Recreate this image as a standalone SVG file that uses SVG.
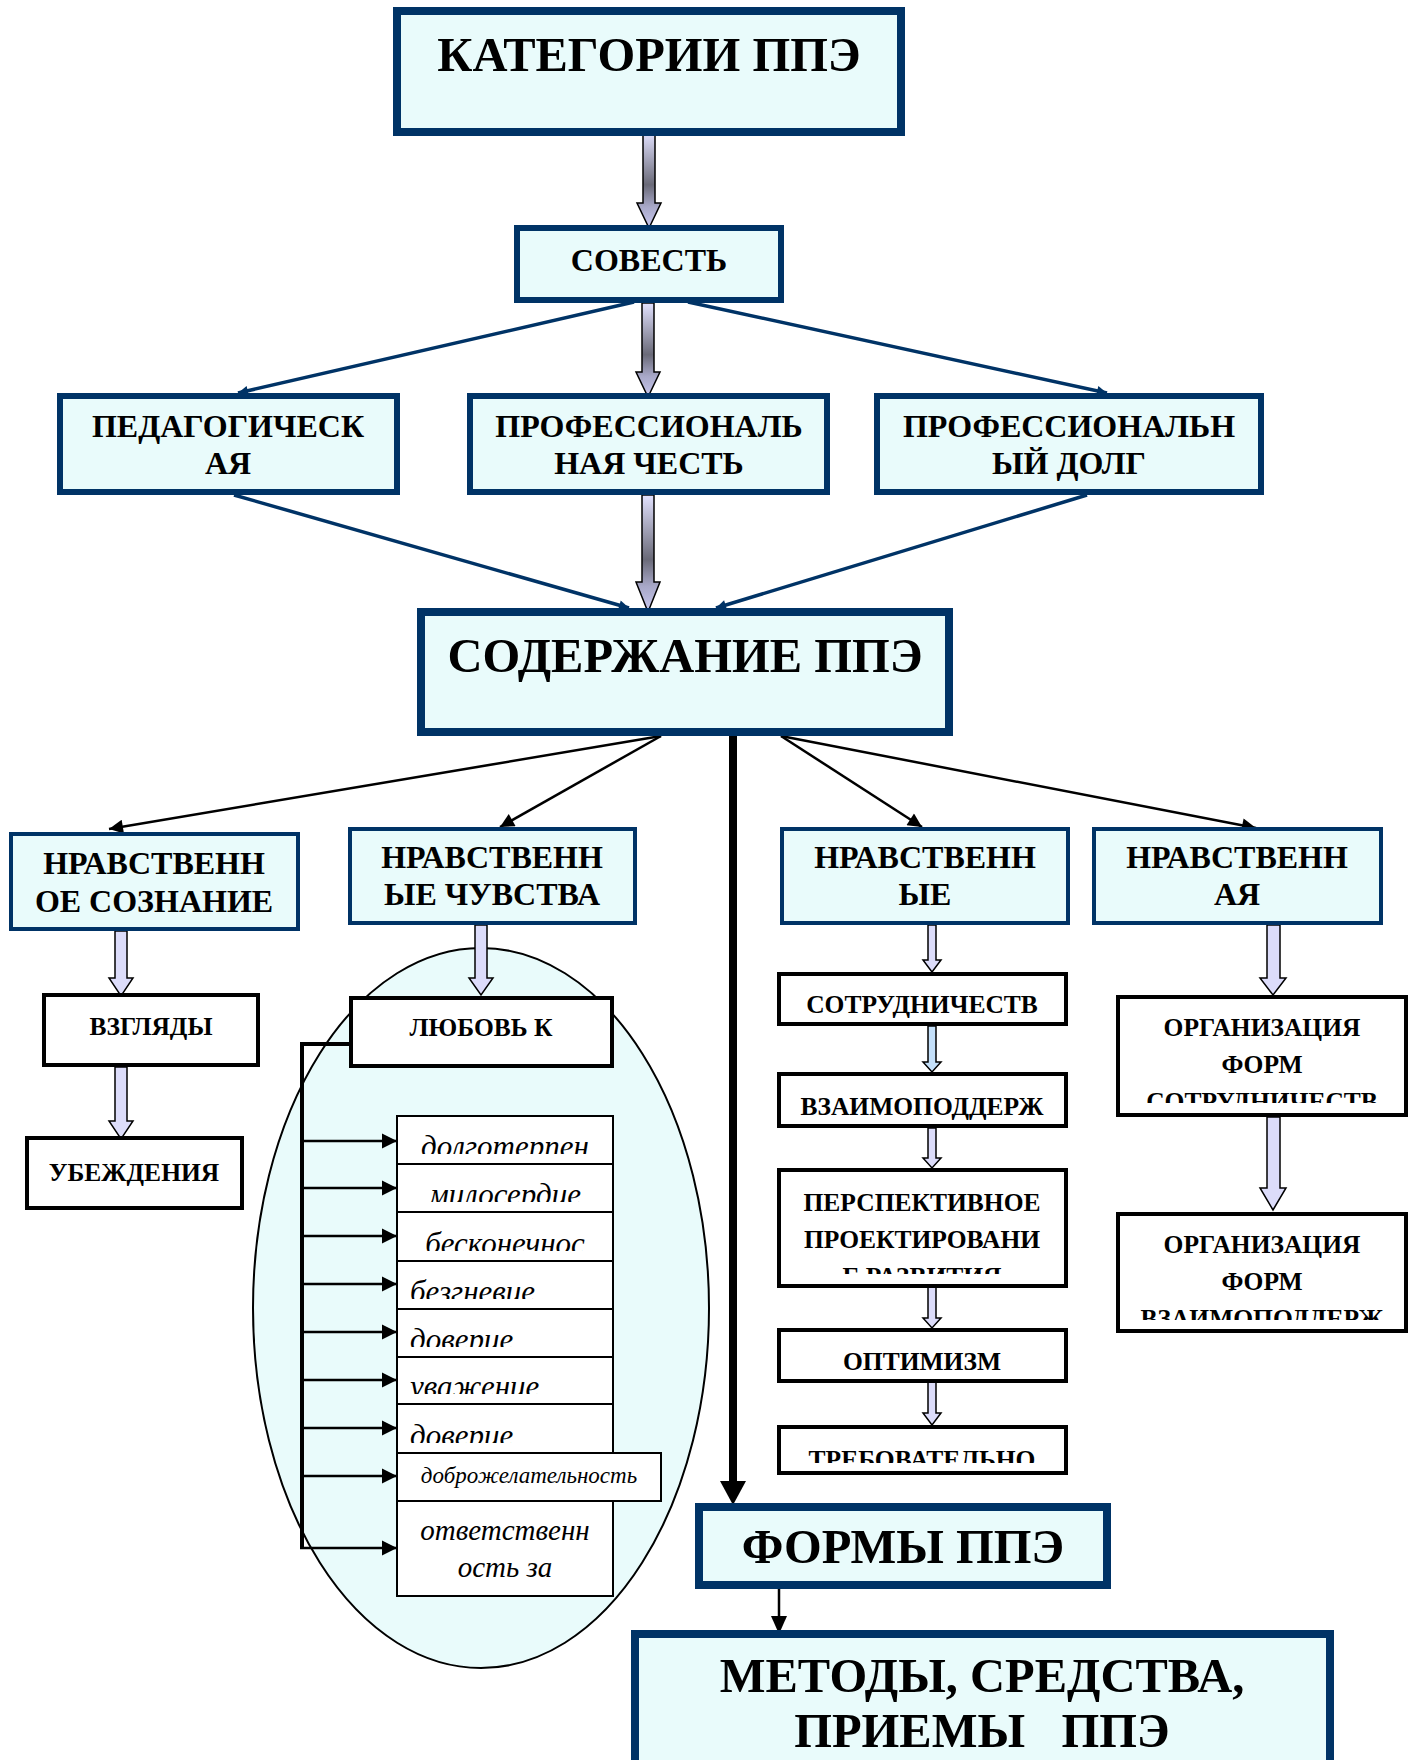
<svg xmlns="http://www.w3.org/2000/svg" width="1413" height="1760" viewBox="0 0 1413 1760">
<style>
.bb{fill:#e9fbfb;stroke:#003366}
.bk{fill:#ffffff;stroke:#000000;stroke-width:4}
.li{fill:#ffffff;stroke:#000000;stroke-width:2}
.t{font-family:"Liberation Serif","Times New Roman",serif;font-weight:bold;fill:#000;text-anchor:middle}
.it{font-family:"Liberation Serif","Times New Roman",serif;font-style:italic;fill:#000}
.blu{stroke:#003366;stroke-width:3.5;fill:none}
.blk{stroke:#000;stroke-width:2.5;fill:none}
.ga{fill:url(#gArrow);stroke:#000;stroke-width:1.5}
.la{fill:#dcdcfa;stroke:#000;stroke-width:1.5}
.lb{fill:#c4e0fa;stroke:#000;stroke-width:1.5}
</style>
<defs>
<linearGradient id="gArrow" x1="0" y1="0" x2="0" y2="1">
<stop offset="0" stop-color="#e2e2ff"/>
<stop offset="0.55" stop-color="#6a6a78"/>
<stop offset="0.78" stop-color="#a8a8c8"/>
<stop offset="1" stop-color="#c8c8f0"/>
</linearGradient>
<marker id="mb" viewBox="0 0 10 10" refX="10" refY="5" markerWidth="14" markerHeight="10" markerUnits="userSpaceOnUse" orient="auto"><path d="M0,0 L10,5 L0,10 z" fill="#003366"/></marker>
<marker id="mk" viewBox="0 0 10 10" refX="10" refY="5" markerWidth="18" markerHeight="14" markerUnits="userSpaceOnUse" orient="auto"><path d="M0,0 L10,5 L0,10 z" fill="#000"/></marker>
<marker id="mh" viewBox="0 0 10 10" refX="10" refY="5" markerWidth="15" markerHeight="16" markerUnits="userSpaceOnUse" orient="auto"><path d="M0,0 L10,5 L0,10 z" fill="#000"/></marker>
<clipPath id="c1"><rect x="397" y="1116" width="216" height="38"/></clipPath>
<clipPath id="c2"><rect x="397" y="1164" width="216" height="38"/></clipPath>
<clipPath id="c3"><rect x="397" y="1212" width="216" height="39"/></clipPath>
<clipPath id="c4"><rect x="397" y="1261" width="216" height="38"/></clipPath>
<clipPath id="c5"><rect x="397" y="1309" width="216" height="38"/></clipPath>
<clipPath id="c6"><rect x="397" y="1357" width="216" height="37"/></clipPath>
<clipPath id="c7"><rect x="397" y="1404" width="216" height="39"/></clipPath>
<clipPath id="cp"><rect x="779" y="1170" width="287" height="104"/></clipPath>
<clipPath id="ct"><rect x="779" y="1427" width="287" height="36"/></clipPath>
<clipPath id="co1"><rect x="1118" y="997" width="288" height="106"/></clipPath>
<clipPath id="co2"><rect x="1118" y="1214" width="288" height="106"/></clipPath>
</defs>
<rect width="1413" height="1760" fill="#ffffff"/>

<g id="ellipse">
<ellipse cx="481" cy="1308" rx="228" ry="360" fill="#e9fbfb" stroke="#000" stroke-width="2"/>
</g>

<g id="connectors">
<polygon class="ga" points="643,132 655,132 655,203 661,203 649,228 637,203 643,203"/>
<polygon class="ga" points="642,303 654,303 654,372 660,372 648,397 636,372 642,372"/>
<polygon class="ga" points="642,495 654,495 654,582 660,582 648,612 636,582 642,582"/>
<line class="blu" x1="634" y1="302" x2="238" y2="393" marker-end="url(#mb)"/>
<line class="blu" x1="688" y1="302" x2="1107" y2="393" marker-end="url(#mb)"/>
<line class="blu" x1="234" y1="495" x2="629" y2="608" marker-end="url(#mb)"/>
<line class="blu" x1="1087" y1="495" x2="716" y2="608" marker-end="url(#mb)"/>
<line class="blk" x1="661" y1="736" x2="109" y2="829" marker-end="url(#mk)"/>
<line class="blk" x1="661" y1="736" x2="500" y2="827" marker-end="url(#mk)"/>
<line class="blk" x1="781" y1="736" x2="922" y2="827" marker-end="url(#mk)"/>
<line class="blk" x1="781" y1="736" x2="1256" y2="828" marker-end="url(#mk)"/>
<line x1="733" y1="736" x2="733" y2="1483" stroke="#000" stroke-width="8"/>
<polygon points="720,1481 746,1481 733,1505" fill="#000"/>
<line x1="779" y1="1589" x2="779" y2="1618" stroke="#000" stroke-width="2.5"/>
<polygon points="771,1616 787,1616 779,1634" fill="#000"/>
<polygon class="la" points="115,931 127,931 127,978 133,978 121,996 109,978 115,978"/>
<polygon class="la" points="115,1067 127,1067 127,1121 133,1121 121,1139 109,1121 115,1121"/>
<polygon class="la" points="475,925 487,925 487,978 493,978 481,995 469,978 475,978"/>
<polygon class="la" points="928,925 936,925 936,960 941,960 932,972 923,960 928,960"/>
<polygon class="lb" points="928,1026 936,1026 936,1062 941,1062 932,1072 923,1062 928,1062"/>
<polygon class="la" points="928,1128 936,1128 936,1158 941,1158 932,1168 923,1158 928,1158"/>
<polygon class="la" points="928,1282 936,1282 936,1318 941,1318 932,1328 923,1318 928,1318"/>
<polygon class="la" points="928,1378 936,1378 936,1413 941,1413 932,1425 923,1413 928,1413"/>
<polygon class="la" points="1267,925 1280,925 1280,978 1286,978 1273,995 1260,978 1267,978"/>
<polygon class="la" points="1267,1117 1280,1117 1280,1188 1286,1188 1273,1210 1260,1188 1267,1188"/>
<polyline points="349,1044 302,1044 302,1548" fill="none" stroke="#000" stroke-width="4"/>
<line class="blk" x1="302" y1="1141" x2="397" y2="1141" marker-end="url(#mh)"/>
<line class="blk" x1="302" y1="1188" x2="397" y2="1188" marker-end="url(#mh)"/>
<line class="blk" x1="302" y1="1236" x2="397" y2="1236" marker-end="url(#mh)"/>
<line class="blk" x1="302" y1="1284" x2="397" y2="1284" marker-end="url(#mh)"/>
<line class="blk" x1="302" y1="1332" x2="397" y2="1332" marker-end="url(#mh)"/>
<line class="blk" x1="302" y1="1380" x2="397" y2="1380" marker-end="url(#mh)"/>
<line class="blk" x1="302" y1="1428" x2="397" y2="1428" marker-end="url(#mh)"/>
<line class="blk" x1="302" y1="1476" x2="397" y2="1476" marker-end="url(#mh)"/>
<line class="blk" x1="300" y1="1548" x2="397" y2="1548" marker-end="url(#mh)"/>
</g>

<g id="n-kategorii"><rect class="bb" x="397" y="11" width="504" height="121" stroke-width="8"/><text class="t" x="649" y="71" font-size="48.5">КАТЕГОРИИ ППЭ</text></g>
<g id="n-sovest"><rect class="bb" x="517" y="228" width="264" height="72" stroke-width="6"/><text class="t" x="649" y="271" font-size="32">СОВЕСТЬ</text></g>
<g id="n-ped"><rect class="bb" x="60" y="396" width="337" height="96" stroke-width="6"/><text class="t" x="228" y="437" font-size="32">ПЕДАГОГИЧЕСК</text><text class="t" x="228" y="474" font-size="32">АЯ</text></g>
<g id="n-chest"><rect class="bb" x="470" y="396" width="357" height="96" stroke-width="6"/><text class="t" x="649" y="437" font-size="32">ПРОФЕССИОНАЛЬ</text><text class="t" x="649" y="474" font-size="32">НАЯ ЧЕСТЬ</text></g>
<g id="n-dolg"><rect class="bb" x="877" y="396" width="384" height="96" stroke-width="6"/><text class="t" x="1069" y="437" font-size="32">ПРОФЕССИОНАЛЬН</text><text class="t" x="1069" y="474" font-size="32">ЫЙ ДОЛГ</text></g>
<g id="n-soderzh"><rect class="bb" x="421" y="612" width="528" height="120" stroke-width="8"/><text class="t" x="685" y="672" font-size="48.5">СОДЕРЖАНИЕ ППЭ</text></g>

<g id="n-soznanie"><rect class="bb" x="11" y="834" width="287" height="95" stroke-width="4"/><text class="t" x="154" y="874" font-size="32">НРАВСТВЕНН</text><text class="t" x="154" y="912" font-size="32">ОЕ СОЗНАНИЕ</text></g>
<g id="n-chuvstva"><rect class="bb" x="350" y="829" width="285" height="94" stroke-width="4"/><text class="t" x="492" y="868" font-size="32">НРАВСТВЕНН</text><text class="t" x="492" y="905" font-size="32">ЫЕ ЧУВСТВА</text></g>
<g id="n-nravye"><rect class="bb" x="782" y="829" width="286" height="94" stroke-width="4"/><text class="t" x="925" y="868" font-size="32">НРАВСТВЕНН</text><text class="t" x="925" y="905" font-size="32">ЫЕ</text></g>
<g id="n-nravaya"><rect class="bb" x="1094" y="829" width="287" height="94" stroke-width="4"/><text class="t" x="1237" y="868" font-size="32">НРАВСТВЕНН</text><text class="t" x="1237" y="905" font-size="32">АЯ</text></g>

<g id="n-vzglyady"><rect class="bk" x="44" y="995" width="214" height="70"/><text class="t" x="151" y="1035" font-size="25.5">ВЗГЛЯДЫ</text></g>
<g id="n-ubezhdeniya"><rect class="bk" x="27" y="1138" width="215" height="70"/><text class="t" x="134" y="1181" font-size="25.5">УБЕЖДЕНИЯ</text></g>
<g id="n-lyubov"><rect class="bk" x="351" y="998" width="261" height="68"/><text class="t" x="481" y="1036" font-size="25.5">ЛЮБОВЬ К</text></g>

<g id="n-list">
<rect class="li" x="397" y="1116" width="216" height="48"/>
<rect class="li" x="397" y="1164" width="216" height="48"/>
<rect class="li" x="397" y="1212" width="216" height="49"/>
<rect class="li" x="397" y="1261" width="216" height="48"/>
<rect class="li" x="397" y="1309" width="216" height="48"/>
<rect class="li" x="397" y="1357" width="216" height="47"/>
<rect class="li" x="397" y="1404" width="216" height="49"/>
<rect class="li" x="397" y="1453" width="264" height="48"/>
<rect class="li" x="397" y="1501" width="216" height="95"/>
<text class="it" x="505" y="1157" font-size="31" text-anchor="middle" clip-path="url(#c1)">долготерпен</text>
<text class="it" x="505" y="1205" font-size="31" text-anchor="middle" clip-path="url(#c2)">милосердие</text>
<text class="it" x="505" y="1254" font-size="31" text-anchor="middle" clip-path="url(#c3)">бесконечнос</text>
<text class="it" x="410" y="1302" font-size="31" clip-path="url(#c4)">безгневие</text>
<text class="it" x="410" y="1350" font-size="31" clip-path="url(#c5)">доверие</text>
<text class="it" x="410" y="1397" font-size="31" clip-path="url(#c6)">уважение</text>
<text class="it" x="410" y="1446" font-size="31" clip-path="url(#c7)">доверие</text>
<text class="it" x="529" y="1483" font-size="23" text-anchor="middle">доброжелательность</text>
<text class="it" x="505" y="1540" font-size="29" text-anchor="middle">ответственн</text>
<text class="it" x="505" y="1577" font-size="29" text-anchor="middle">ость за</text>
</g>

<g id="n-sotrud"><rect class="bk" x="779" y="974" width="287" height="50"/><text class="t" x="922" y="1013" font-size="25.5">СОТРУДНИЧЕСТВ</text></g>
<g id="n-vzaimo"><rect class="bk" x="779" y="1074" width="287" height="52"/><text class="t" x="922" y="1115" font-size="25.5">ВЗАИМОПОДДЕРЖ</text></g>
<g id="n-perspekt"><rect class="bk" x="779" y="1170" width="287" height="116"/><g clip-path="url(#cp)"><text class="t" x="922" y="1211" font-size="25.5">ПЕРСПЕКТИВНОЕ</text><text class="t" x="922" y="1248" font-size="25.5">ПРОЕКТИРОВАНИ</text><text class="t" x="922" y="1285" font-size="25.5">Е РАЗВИТИЯ</text></g></g>
<g id="n-optimizm"><rect class="bk" x="779" y="1330" width="287" height="51"/><text class="t" x="922" y="1370" font-size="25.5">ОПТИМИЗМ</text></g>
<g id="n-treb"><rect class="bk" x="779" y="1427" width="287" height="46"/><text class="t" x="922" y="1468" font-size="25.5" clip-path="url(#ct)">ТРЕБОВАТЕЛЬНО</text></g>
<g id="n-org1"><rect class="bk" x="1118" y="997" width="288" height="118"/><g clip-path="url(#co1)"><text class="t" x="1262" y="1036" font-size="25.5">ОРГАНИЗАЦИЯ</text><text class="t" x="1262" y="1073" font-size="25.5">ФОРМ</text><text class="t" x="1262" y="1110" font-size="25.5">СОТРУДНИЧЕСТВ</text></g></g>
<g id="n-org2"><rect class="bk" x="1118" y="1214" width="288" height="117"/><g clip-path="url(#co2)"><text class="t" x="1262" y="1253" font-size="25.5">ОРГАНИЗАЦИЯ</text><text class="t" x="1262" y="1290" font-size="25.5">ФОРМ</text><text class="t" x="1262" y="1327" font-size="25.5">ВЗАИМОПОДДЕРЖ</text></g></g>

<g id="n-formy"><rect class="bb" x="699" y="1507" width="408" height="78" stroke-width="8"/><text class="t" x="903" y="1563" font-size="48.5">ФОРМЫ ППЭ</text></g>
<g id="n-metody"><rect class="bb" x="635" y="1634" width="695" height="200" stroke-width="8"/><text class="t" x="982" y="1692" font-size="48.5">МЕТОДЫ, СРЕДСТВА,</text><text class="t" x="982" y="1747" font-size="48.5" xml:space="preserve">ПРИЕМЫ   ППЭ</text></g>
</svg>
